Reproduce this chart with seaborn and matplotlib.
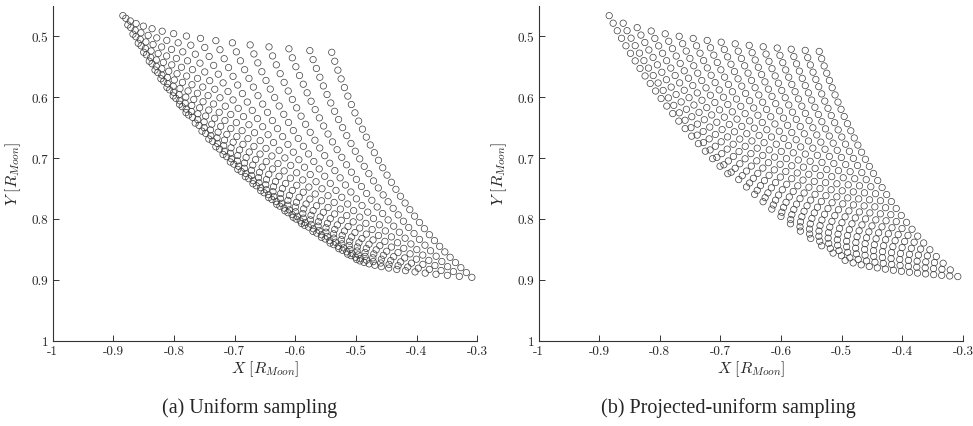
import numpy as np
import pandas as pd
import matplotlib
matplotlib.use("Agg")
import matplotlib.pyplot as plt
import seaborn as sns

# ---- data: sampling grids ----
# sub-observer latitude of the view (deg)
view_lat_deg = -5.45
# (a) uniform sampling: latitude / longitude grid lines (deg, lon relative to view centre)
lat_a_deg = [27.5, 28.5, 29.5, 30.5, 31.5, 32.5, 33.5, 34.5, 35.5, 36.5, 37.5,
             38.5, 39.5, 40.5, 41.5, 42.5, 43.5, 44.5, 45.5, 46.5, 47.5, 48.5,
             49.5, 50.5, 51.5, 52.5, 53.5, 54.5, 55.5, 56.5, 57.5, 58.5, 59.5]
lon_a_deg = [-37.5, -40.5, -43.5, -46.5, -49.5, -52.5, -55.5, -58.5, -61.5,
             -64.5, -67.5, -70.5, -73.5, -76.5, -79.5, -82.5, -85.5, -88.5]
# (b) projected-uniform sampling: grid in sin(lat) / sin(lon)
sinlat_b = [0.46, 0.4725, 0.485, 0.4975, 0.51, 0.5225, 0.535, 0.5475, 0.56,
            0.5725, 0.585, 0.5975, 0.61, 0.6225, 0.635, 0.6475, 0.66, 0.6725,
            0.685, 0.6975, 0.71, 0.7225, 0.735, 0.7475, 0.76, 0.7725, 0.785,
            0.7975, 0.81, 0.8225, 0.835, 0.8475, 0.86]
sinlon_b = [-0.605, -0.631, -0.657, -0.683, -0.709, -0.735, -0.761, -0.787,
            -0.813, -0.839, -0.865, -0.891, -0.917, -0.943, -0.969, -0.995]

x_ticks = [-1, -0.9, -0.8, -0.7, -0.6, -0.5, -0.4, -0.3]
x_ticklabels = ["-1", "-0.9", "-0.8", "-0.7", "-0.6", "-0.5", "-0.4", "-0.3"]
y_ticks = [0.5, 0.6, 0.7, 0.8, 0.9, 1.0]
y_ticklabels = ["0.5", "0.6", "0.7", "0.8", "0.9", "1"]
captions = ["(a) Uniform sampling", "(b) Projected-uniform sampling"]


def project(sin_lat, cos_lat, sin_lon, cos_lon):
    s0 = np.sin(np.radians(view_lat_deg))
    c0 = np.cos(np.radians(view_lat_deg))
    X = cos_lat * sin_lon
    Y = c0 * sin_lat - s0 * cos_lat * cos_lon
    Z = s0 * sin_lat + c0 * cos_lat * cos_lon
    df = pd.DataFrame({"X": X.ravel(), "Y": Y.ravel(), "Z": Z.ravel()})
    return df[df["Z"] >= 0]


la, lo = np.meshgrid(np.radians(lat_a_deg), np.radians(lon_a_deg), indexing="ij")
df_a = project(np.sin(la), np.cos(la), np.sin(lo), np.cos(lo))

sl, sn = np.meshgrid(np.array(sinlat_b), np.array(sinlon_b), indexing="ij")
df_b = project(sl, np.sqrt(1 - sl**2), sn, np.sqrt(1 - sn**2))

# ---- style ----
sns.set_style("ticks")
plt.rcParams["mathtext.fontset"] = "cm"
plt.rcParams["axes.unicode_minus"] = False
plt.rcParams["font.family"] = ["DejaVu Sans"]

W, H = 973, 427
fig = plt.figure(figsize=(W / 100, H / 100), dpi=100)
ax_w, ax_h = 424.6 / W, 335.0 / H
bottom = (H - 341.7) / H
axes = [fig.add_axes([52.7 / W, bottom, ax_w, ax_h]),
        fig.add_axes([538.5 / W, bottom, ax_w, ax_h])]

for ax, df, cap, cx in zip(axes, [df_a, df_b], captions, [250, 728]):
    sns.scatterplot(data=df, x="X", y="Y", ax=ax, marker="o", s=21,
                    linewidth=0.5, legend=False)
    for coll in ax.collections:
        coll.set_facecolor("none")
        coll.set_edgecolor("#3c3c3c")
    ax.set_xlim(-1, -0.3)
    ax.set_ylim(1.0, 0.45)
    ax.set_xticks(x_ticks)
    ax.set_xticklabels(x_ticklabels, fontfamily="cmr10", fontsize=9.5)
    ax.set_yticks(y_ticks)
    ax.set_yticklabels(y_ticklabels, fontfamily="cmr10", fontsize=9.5)
    ax.tick_params(direction="in", length=4, width=0.7, color="#333333", pad=3)
    for side in ["top", "right"]:
        ax.spines[side].set_visible(False)
    for side in ["left", "bottom"]:
        ax.spines[side].set_linewidth(0.8)
        ax.spines[side].set_color("#333333")
    ax.set_xlabel(r"$X\ [R_{Moon}]$", fontsize=11.5, labelpad=1)
    ax.set_ylabel(r"$Y\ [R_{Moon}]$", fontsize=11.5, labelpad=6)
    fig.text(cx / W, (H - 408) / H, cap, ha="center", va="center",
             fontfamily="Liberation Serif", fontsize=14.5)

fig.savefig("out.png", dpi=100)
